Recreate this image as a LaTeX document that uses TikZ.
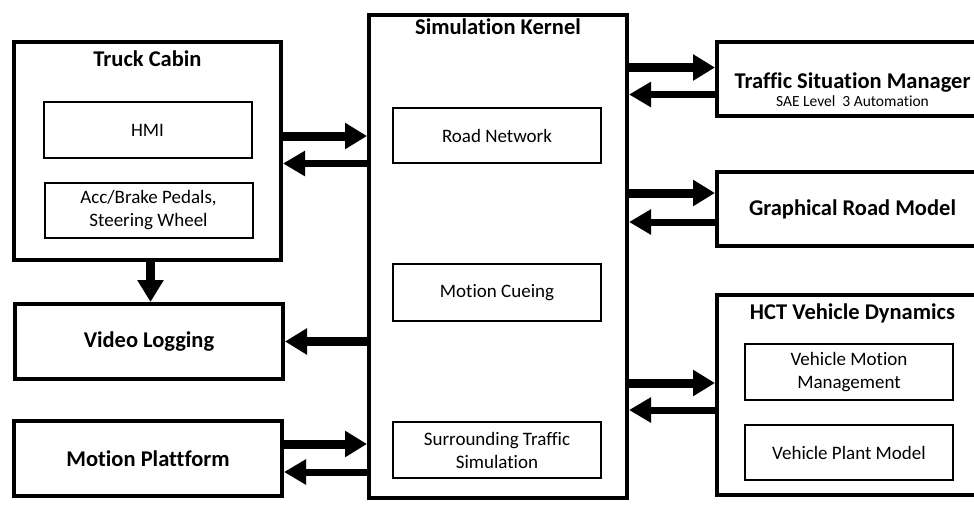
\documentclass[tikz,border=0pt]{standalone}
\usepackage{fontspec}
\setmainfont{Carlito}[Ligatures=NoCommon]
\usepackage{tikz}
\usetikzlibrary{arrows.meta}

\tikzset{
  outer/.style={draw, rectangle, line width=4pt, inner sep=0pt, font=\bfseries\fontsize{22.5}{26}\selectfont},
  inner/.style={draw, rectangle, line width=2pt, inner sep=0pt, minimum width=208pt, align=center, font=\fontsize{19}{23}\selectfont},
  boxtitle/.style={anchor=base, inner sep=0pt, font=\bfseries\fontsize{22.5}{26}\selectfont},
  subtitle/.style={anchor=base, inner sep=0pt, font=\fontsize{15.5}{18}\selectfont},
  bigarrow/.style={line width=9pt, -{Triangle[length=22pt,width=25pt]}},
  slimarrow/.style={line width=7pt, -{Triangle[length=22pt,width=24pt]}},
}

\begin{document}
\begin{tikzpicture}[x=1pt, y=-1pt]
\useasboundingbox (0,0) rectangle (974,504);
\clip (0,0) rectangle (974,504);

% left column
\node[outer, minimum width=267pt, minimum height=218pt] (tc) at (147.5,151) {};
\node[boxtitle] (tctitle) at ([yshift=-26pt]tc.north) {Truck Cabin};
\node[inner, minimum height=56pt] (hmi) at (147.5,130) {HMI};
\node[inner, minimum height=55pt] (pedals) at (148.5,210.5) {Acc/Brake Pedals,\\Steering Wheel};
\node[outer, minimum width=268pt, minimum height=75pt] (video) at (149,341.5) {Video Logging};
\node[outer, minimum width=268pt, minimum height=75pt] (platform) at (148,458.5) {Motion Plattform};

% simulation kernel
\node[outer, minimum width=258pt, minimum height=483pt] (kernel) at (498,256.5) {};
\node[boxtitle] (kerneltitle) at ([yshift=-21pt]kernel.north) {Simulation Kernel};
\node[inner, minimum height=55pt] (road) at (497,135.5) {Road Network};
\node[inner, minimum height=57pt] (cueing) at (497,292.5) {Motion Cueing};
\node[inner, minimum height=56pt] (traffic) at (497,450) {Surrounding Traffic\\Simulation};

% right column
\node[outer, minimum width=271pt, minimum height=74pt] (manager) at (852.5,79) {};
\node[boxtitle] (managertitle) at ([yshift=-48pt]manager.north) {Traffic Situation Manager};
\node[subtitle] (managersub) at ([yshift=-66pt]manager.north) {SAE Level\ \ 3 Automation};
\node[outer, minimum width=271pt, minimum height=74pt] (graphics) at (852.5,209) {Graphical Road Model};
\node[outer, minimum width=271pt, minimum height=200pt] (dynamics) at (852.5,395) {};
\node[boxtitle] (dynamicstitle) at ([yshift=-26pt]dynamics.north) {HCT Vehicle Dynamics};
\node[inner, minimum height=56pt] (vmm) at (849,372) {Vehicle Motion\\Management};
\node[inner, minimum height=55pt] (plant) at (849,452.5) {Vehicle Plant Model};

% connections
\draw[bigarrow] ([yshift=15pt]tc.east) -- ([yshift=15pt]tc.east -| kernel.west);
\draw[slimarrow] ([yshift=-12.5pt]tc.east -| kernel.west) -- ([yshift=-12.5pt]tc.east);
\draw[bigarrow] ([xshift=3pt]tc.south) -- ([xshift=3pt]tc.south |- video.north);
\draw[bigarrow] (video.east -| kernel.west) -- (video.east);
\draw[bigarrow] ([yshift=14.5pt]platform.east) -- ([yshift=14.5pt]platform.east -| kernel.west);
\draw[slimarrow] ([yshift=-13.5pt]platform.east -| kernel.west) -- ([yshift=-13.5pt]platform.east);
\draw[bigarrow] ([yshift=11.5pt]manager.west -| kernel.east) -- ([yshift=11.5pt]manager.west);
\draw[slimarrow] ([yshift=-15.5pt]manager.west) -- ([yshift=-15.5pt]manager.west -| kernel.east);
\draw[bigarrow] ([yshift=16pt]graphics.west -| kernel.east) -- ([yshift=16pt]graphics.west);
\draw[slimarrow] ([yshift=-13pt]graphics.west) -- ([yshift=-13pt]graphics.west -| kernel.east);
\draw[bigarrow] ([yshift=12pt]dynamics.west -| kernel.east) -- ([yshift=12pt]dynamics.west);
\draw[slimarrow] ([yshift=-15pt]dynamics.west) -- ([yshift=-15pt]dynamics.west -| kernel.east);
\end{tikzpicture}
\end{document}
